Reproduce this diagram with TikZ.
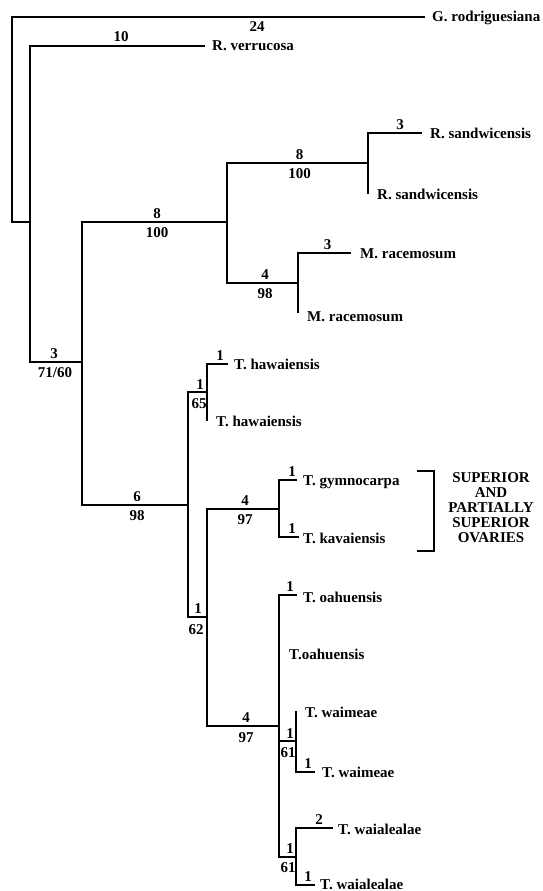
\documentclass[tikz,border=0pt]{standalone}
\usepackage{fontspec}
\setmainfont{Liberation Serif}
\begin{document}
\begin{tikzpicture}[x=1pt,y=-1pt,
  br/.style={line width=2.4pt, line join=miter},
  brk/.style={line width=1.6pt, line join=miter},
  lf/.style={anchor=base west, inner sep=0pt, font=\fontsize{15}{16}\selectfont\bfseries},
  num/.style={anchor=base, inner sep=0pt, font=\fontsize{15}{16}\selectfont\bfseries},
  ovtext/.style={anchor=base, inner sep=0pt, font=\fontsize{15}{16}\selectfont\bfseries}]
\useasboundingbox (0,0) rectangle (543,891);
% internal nodes
\coordinate (A) at (12,222);
\coordinate (B) at (30,222);
\coordinate (C) at (82,362);
\coordinate (D) at (227,222);
\coordinate (E) at (188,505);
\coordinate (F) at (368,163);
\coordinate (Mn) at (298,283);
\coordinate (H) at (207,392);
\coordinate (I) at (207,617);
\coordinate (J) at (279,509);
\coordinate (K) at (279,726);
\coordinate (L) at (296,741);
\coordinate (Mw) at (296,857);
% leaf ends
\coordinate (eG) at (425,17);
\coordinate (eRv) at (205,46);
\coordinate (eRs1) at (422,133);
\coordinate (tRs2) at (368,194);
\coordinate (eMr1) at (351,253);
\coordinate (tMr2) at (298,313);
\coordinate (eTh1) at (228,364);
\coordinate (tTh2) at (207,421);
\coordinate (eGy) at (297,480);
\coordinate (eKa) at (299,537);
\coordinate (eOa) at (297,595);
\coordinate (tWm1) at (296,711);
\coordinate (eWm2) at (315,772);
\coordinate (eWa1) at (333,828);
\coordinate (eWa2) at (315,885);
% branches
\draw[br] (eG) -| (A) -- (B);
\draw[br] (eRv) -| (B) |- (C);
\draw[br] (D) -| (C) |- (E);
\draw[br] (F) -| (D) |- (Mn);
\draw[br] (eRs1) -| (F) -- (tRs2);
\draw[br] (eMr1) -| (Mn) -- (tMr2);
\draw[br] (H) -| (E) |- (I);
\draw[br] (eTh1) -| (H) -- (tTh2);
\draw[br] (J) -| (I) |- (K);
\draw[br] (eGy) -| (J) |- (eKa);
\draw[br] (eOa) -| (K) |- (Mw);
\draw[br] (L) -- (L -| K);
\draw[br] (tWm1) -- (L) |- (eWm2);
\draw[br] (eWa1) -| (Mw) |- (eWa2);
% leaf labels
\node[lf] (lG) at (432,22) {G. rodriguesiana};
\node[lf] (lRv) at (212,51) {R. verrucosa};
\node[lf] (lRs1) at (430,138) {R. sandwicensis};
\node[lf] (lRs2) at (377,199) {R. sandwicensis};
\node[lf] (lMr1) at (360,258) {M. racemosum};
\node[lf] (lMr2) at (307,321) {M. racemosum};
\node[lf] (lTh1) at (234,369) {T. hawaiensis};
\node[lf] (lTh2) at (216,426) {T. hawaiensis};
\node[lf] (lGy) at (303,485) {T. gymnocarpa};
\node[lf] (lKa) at (303,543) {T. kavaiensis};
\node[lf] (lOa1) at (303,602) {T. oahuensis};
\node[lf] (lOa2) at (289,659) {T.oahuensis};
\node[lf] (lWm1) at (305,717) {T. waimeae};
\node[lf] (lWm2) at (322,777) {T. waimeae};
\node[lf] (lWa1) at (338,834) {T. waialealae};
\node[lf] (lWa2) at (320,889) {T. waialealae};
% support numbers
\node[num] (n24) at (257,32) {24};
\node[num] (n10) at (121,42) {10};
\node[num] (nD1) at (157,218) {8};
\node[num] (nD2) at (157,237) {100};
\node[num] (nF1) at (299.5,159) {8};
\node[num] (nF2) at (299.5,178) {100};
\node[num] (nRs) at (400,129) {3};
\node[num] (nM1) at (265,279) {4};
\node[num] (nM2) at (265,298) {98};
\node[num] (nMr) at (327.5,249) {3};
\node[num] (nC1) at (54,358) {3};
\node[num] (nC2) at (55,377) {71/60};
\node[num] (nE1) at (137,501) {6};
\node[num] (nE2) at (137,520) {98};
\node[num] (nH1) at (200,389) {1};
\node[num] (nH2) at (199,408) {65};
\node[num] (nTh) at (220,360) {1};
\node[num] (nJ1) at (245,505) {4};
\node[num] (nJ2) at (245,524) {97};
\node[num] (nGy) at (292,476) {1};
\node[num] (nKa) at (292,533) {1};
\node[num] (nI1) at (198,613) {1};
\node[num] (nI2) at (196,634) {62};
\node[num] (nOa) at (290,591) {1};
\node[num] (nK1) at (246,722) {4};
\node[num] (nK2) at (246,742) {97};
\node[num] (nL1) at (290,738) {1};
\node[num] (nL2) at (288,757) {61};
\node[num] (nWm) at (308,768) {1};
\node[num] (nWa1) at (319,824) {2};
\node[num] (nMw1) at (290,853) {1};
\node[num] (nMw2) at (288,872) {61};
\node[num] (nWa2) at (308,881) {1};
% bracket
\coordinate (bT) at (417,471);
\coordinate (bB) at (417,551);
\coordinate (bV) at (434,511);
\draw[brk] (bT) -| (bV) |- (bB);
\node[ovtext] (o1) at (491,482) {SUPERIOR};
\node[ovtext] (o2) at (491,497) {AND};
\node[ovtext] (o3) at (491,512) {PARTIALLY};
\node[ovtext] (o4) at (491,527) {SUPERIOR};
\node[ovtext] (o5) at (491,542) {OVARIES};
\end{tikzpicture}
\end{document}
